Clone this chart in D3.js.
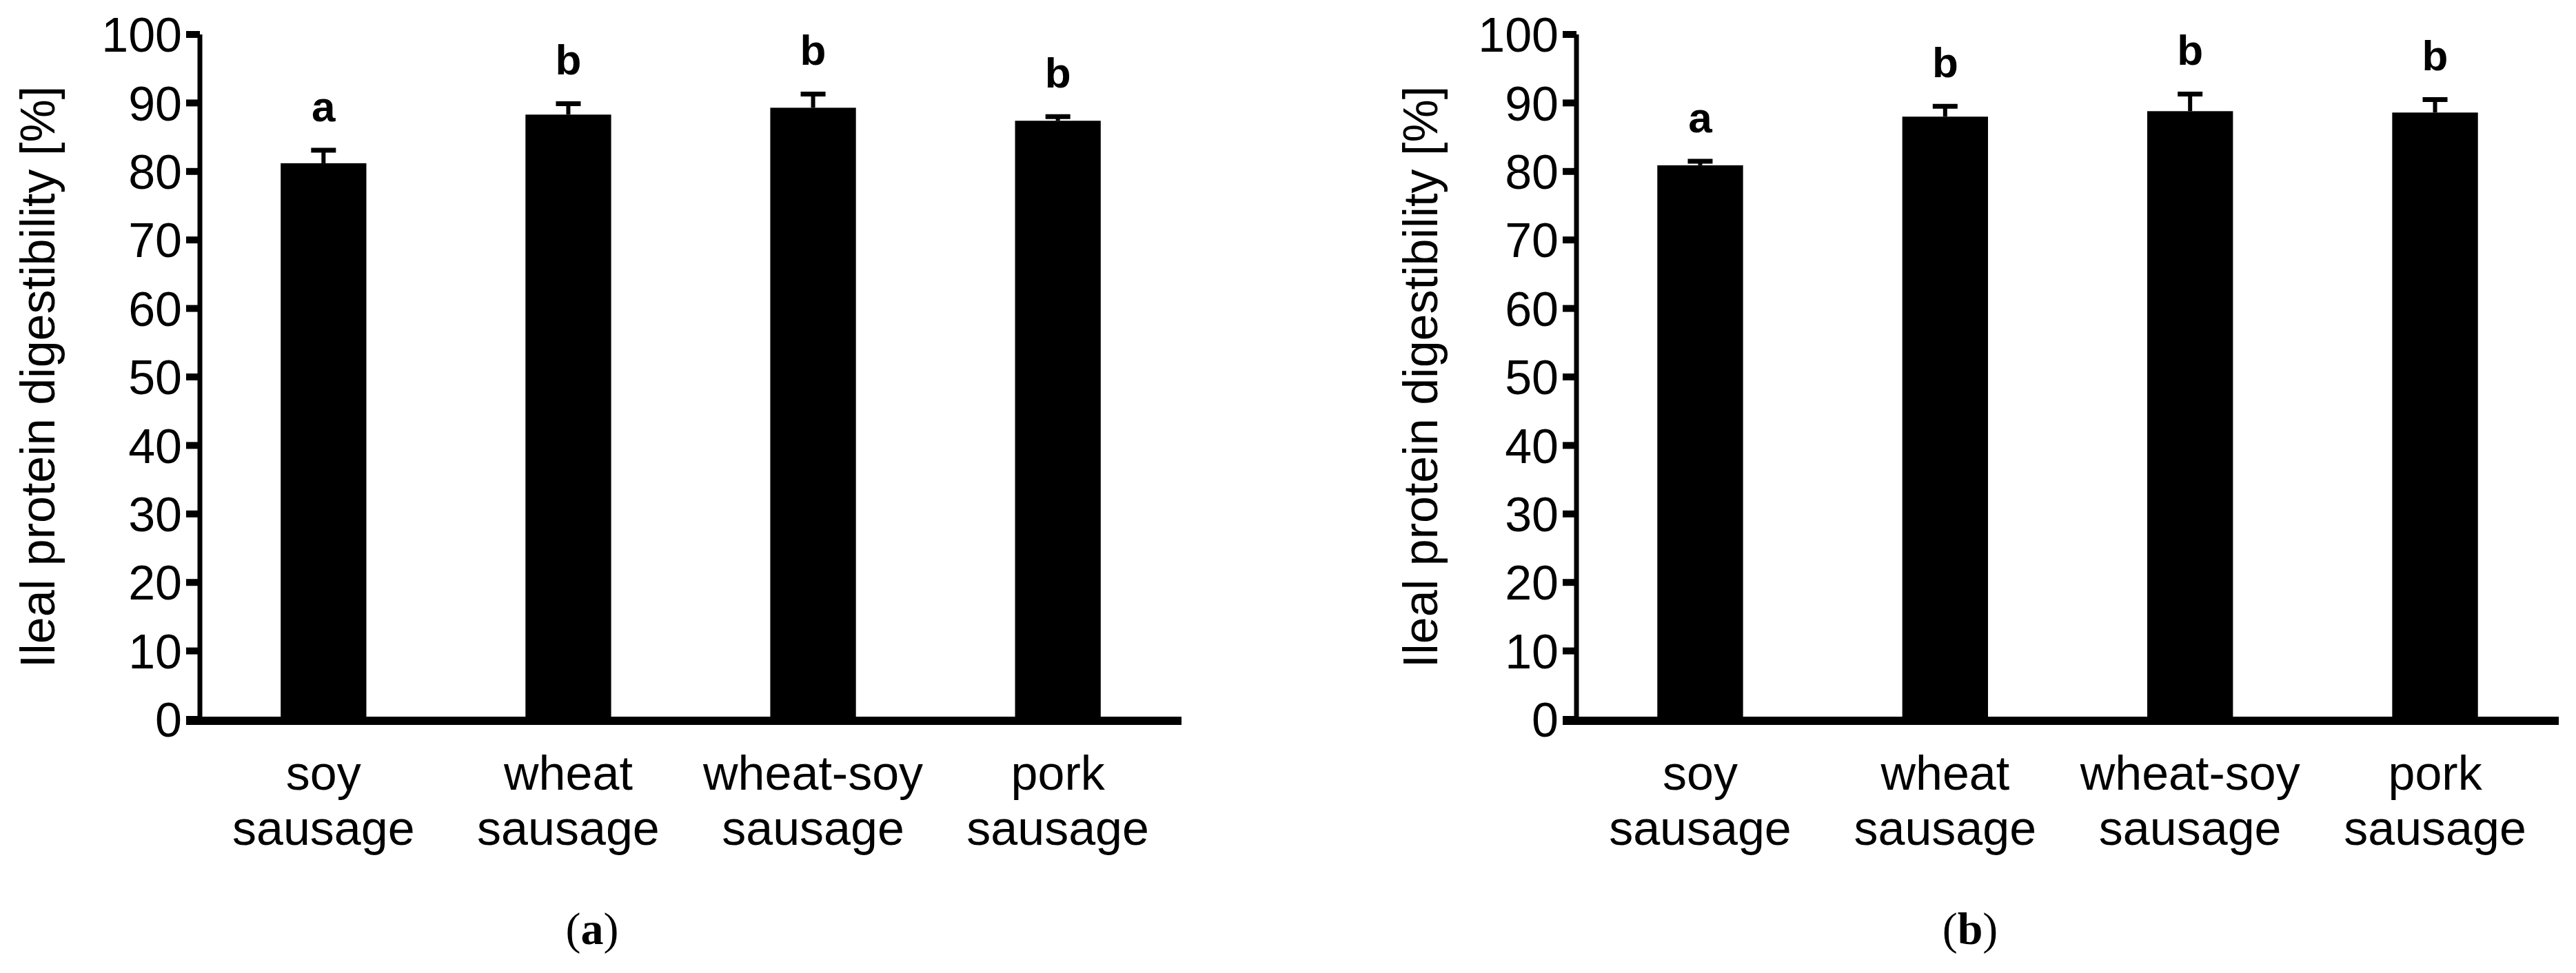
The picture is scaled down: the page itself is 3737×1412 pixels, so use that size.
<!DOCTYPE html>
<html><head><meta charset="utf-8">
<script src="https://cdn.jsdelivr.net/npm/d3@7"></script>
<style>body{margin:0;background:#fff}</style>
</head><body>
<svg id="c" width="3737" height="1412"></svg>
<script>
var categories = ["soy sausage", "wheat sausage", "wheat-soy sausage", "pork sausage"];
var valuesA = [81.2, 88.3, 89.3, 87.4];
var errorsA = [1.9, 1.6, 2.0, 0.6];
var lettersA = ["a", "b", "b", "b"];
var valuesB = [80.9, 88.0, 88.8, 88.6];
var errorsB = [0.6, 1.5, 2.5, 1.9];
var lettersB = ["a", "b", "b", "b"];
var yTicks = [0, 10, 20, 30, 40, 50, 60, 70, 80, 90, 100];

var svg = d3.select("#c");
var FONT = "'Liberation Sans Narrow', 'Liberation Sans', Arial, sans-serif";

function panel(x0, x1, yLabelX, capX, caption, values, errors, letters) {
    var g = svg.append("g");
    var x = d3.scaleBand().domain(categories).range([x0, x1]).paddingInner(0.65).paddingOuter(0.33);
    var y = d3.scaleLinear().domain([0, 100]).range([1044, 50]);

    g.selectAll("rect.bar").data(values).enter().append("rect")
        .attr("x", function(d, i) { return x(categories[i]); })
        .attr("y", function(d) { return y(d); })
        .attr("width", x.bandwidth())
        .attr("height", function(d) { return y(0) - y(d); })
        .attr("fill", "#000");

    values.forEach(function(v, i) {
        var cx = x(categories[i]) + x.bandwidth() / 2;
        g.append("line").attr("x1", cx).attr("x2", cx)
            .attr("y1", y(v)).attr("y2", y(v + errors[i]))
            .attr("stroke", "#000").attr("stroke-width", 6);
        g.append("line").attr("x1", cx - 18).attr("x2", cx + 18)
            .attr("y1", y(v + errors[i])).attr("y2", y(v + errors[i]))
            .attr("stroke", "#000").attr("stroke-width", 7);
        g.append("text").attr("x", cx).attr("y", y(v + errors[i]) - 42)
            .attr("text-anchor", "middle").attr("font-family", FONT)
            .attr("font-weight", "bold").attr("font-size", 62).text(letters[i]);
        var words = categories[i].split(" ");
        words.forEach(function(w, k) {
            g.append("text").attr("x", cx).attr("y", 1146 + k * 80)
                .attr("text-anchor", "middle").attr("font-family", FONT)
                .attr("font-size", 70).text(w);
        });
    });

    // y axis
    g.append("line").attr("x1", x0).attr("x2", x0).attr("y1", y(100)).attr("y2", y(0))
        .attr("stroke", "#000").attr("stroke-width", 7);
    yTicks.forEach(function(t) {
        g.append("line").attr("x1", x0 - 20).attr("x2", x0).attr("y1", y(t)).attr("y2", y(t))
            .attr("stroke", "#000").attr("stroke-width", 10);
        g.append("text").attr("x", x0 - 26).attr("y", y(t)).attr("dy", "0.36em")
            .attr("text-anchor", "end").attr("font-family", FONT)
            .attr("font-size", 70).text(t);
    });
    // x baseline
    g.append("line").attr("x1", x0 - 20).attr("x2", x1).attr("y1", y(0) + 2).attr("y2", y(0) + 2)
        .attr("stroke", "#000").attr("stroke-width", 12);

    g.append("text").attr("transform", "translate(" + yLabelX + "," + y(50) + ") rotate(-90)")
        .attr("dy", "0.35em").attr("text-anchor", "middle").attr("font-family", FONT)
        .attr("font-size", 70).text("Ileal protein digestibility [%]");

    var cap = g.append("text").attr("x", capX).attr("y", 1370).attr("text-anchor", "middle")
        .attr("font-family", "'Liberation Serif', 'DejaVu Serif', serif").attr("font-size", 66);
    cap.append("tspan").text("(");
    cap.append("tspan").attr("font-weight", "bold").text(caption);
    cap.append("tspan").text(")");
}

panel(290, 1714, 54, 859, "a", valuesA, errorsA, lettersA);
panel(2287, 3712, 2060, 2858, "b", valuesB, errorsB, lettersB);
</script>
</body></html>
